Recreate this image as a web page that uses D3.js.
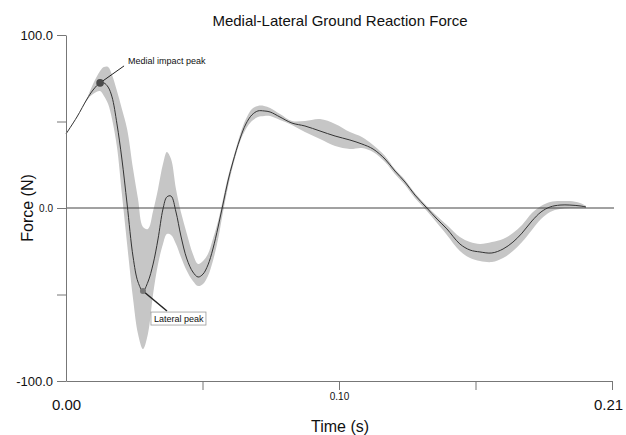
<!DOCTYPE html>
<html>
<head>
<meta charset="utf-8">
<script src="https://cdn.jsdelivr.net/npm/d3@7"></script>
<style>
  body { margin: 0; background: #fff; }
  text { font-family: Arial, "Liberation Sans", sans-serif; fill: #111; }
</style>
</head>
<body>
<svg width="626" height="435"></svg>
<script>
// time (s)
var time = [0, 0.0042, 0.0081, 0.0104, 0.0131, 0.0146, 0.0162, 0.0177, 0.0196, 0.0215,
    0.0235, 0.0258, 0.0277, 0.0296, 0.0315, 0.0335, 0.0354, 0.0373, 0.0388, 0.0404,
    0.0423, 0.0442, 0.0465, 0.0488, 0.0508, 0.0527, 0.0546, 0.0565, 0.0585, 0.0604,
    0.0623, 0.0642, 0.0669, 0.0692, 0.0715, 0.0738, 0.0762, 0.0785, 0.0823, 0.0869,
    0.0919, 0.0977, 0.1035, 0.1092, 0.1138, 0.1181, 0.1227, 0.1265, 0.1304, 0.1342,
    0.1388, 0.1427, 0.1465, 0.1515, 0.1554, 0.1592, 0.1638, 0.1681, 0.1719, 0.1754,
    0.1792, 0.1827, 0.1862, 0.19, 0.1938, 0.1977, 0.2];

// mean force (N)
var meanForce = [42.8, 52.6, 63.0, 68.2, 72.3, 72.3, 69.9, 64.2, 48.6, 28.3,
    2.3, -28.3, -42.8, -48.0, -42.8, -32.4, -17.9, -0.6, 6.4, 6.9,
    -2.3, -16.2, -29.5, -37.0, -39.9, -38.2, -32.9, -23.7, -11.0, 2.3,
    15.6, 26.6, 39.9, 48.6, 53.8, 56.1, 56.1, 55.5, 52.6, 49.1,
    47.4, 44.5, 41.6, 39.3, 37.0, 34.1, 28.3, 21.4, 15.0, 7.5,
    0, -6.4, -12.1, -20.8, -24.3, -25.4, -26.0, -23.7, -19.7, -14.5,
    -7.5, -2.3, 0.6, 1.7, 1.7, 1.2, 0.6];

// upper edge of the shaded band
var upperForce = [42.8, 52.6, 63.6, 71.7, 79.2, 81.5, 81.5, 76.9, 67.6, 57.2,
    45.7, 22.5, 5.2, -11.0, -12.1, -1.7, 11.0, 25.4, 32.4, 28.3,
    11.0, -2.3, -15.0, -26.6, -32.4, -30.6, -26.6, -17.9, -7.5, 5.2,
    17.9, 28.3, 42.2, 51.4, 57.2, 59.0, 59.0, 57.8, 54.3, 50.3,
    50.3, 51.4, 48.6, 43.9, 41.0, 36.4, 30.1, 22.5, 16.2, 8.7,
    1.2, -4.6, -9.8, -16.8, -19.7, -20.8, -19.7, -17.9, -14.5, -9.8,
    -2.9, 1.2, 3.5, 4.0, 4.0, 2.9, 1.2];

// lower edge of the shaded band
var lowerForce = [42.8, 52.6, 62.4, 65.9, 67.6, 64.7, 60.1, 51.4, 35.3, 8.1,
    -20.8, -52.6, -72.8, -81.5, -72.8, -49.7, -32.4, -20.8, -15.0, -15.6,
    -20.8, -28.3, -36.4, -42.2, -45.1, -43.9, -39.3, -30.6, -17.9, -2.3,
    12.1, 24.3, 38.2, 45.7, 50.3, 52.6, 53.2, 53.2, 50.9, 48.0,
    43.9, 39.9, 35.8, 34.1, 34.7, 32.4, 26.6, 19.7, 13.3, 5.8,
    -1.7, -8.7, -15.6, -24.9, -28.9, -30.6, -31.2, -28.9, -24.9, -19.7,
    -12.7, -6.4, -2.3, -0.6, 0, 0, 0];

var yTicks = [100, 50, 0, -50, -100];
var yTickLabels = ['100.0', '', '0.0', '', '-100.0'];
var xTicks = [0, 0.0525, 0.105, 0.1575, 0.21];
var xTickLabels = ['0.00', '', '0.10', '', '0.21'];

var svg = d3.select('svg');
var x = d3.scaleLinear().domain([0, 0.21]).range([66, 612]);
var y = d3.scaleLinear().domain([-100, 100]).range([381, 35]);

var rows = time.map(function (t, i) {
    return {t: t, m: meanForce[i], hi: upperForce[i], lo: lowerForce[i]};
});

// shaded band
var area = d3.area()
    .x(function (d) { return x(d.t); })
    .y0(function (d) { return y(d.lo); })
    .y1(function (d) { return y(d.hi); })
    .curve(d3.curveCatmullRom.alpha(0.5));

svg.append('path')
    .datum(rows)
    .attr('d', area)
    .attr('fill', '#c6c6c6');

// zero line
svg.append('line')
    .attr('x1', x(0)).attr('x2', x(0.21) + 2)
    .attr('y1', y(0)).attr('y2', y(0))
    .attr('stroke', '#444')
    .attr('stroke-width', 1);

// mean line
var line = d3.line()
    .x(function (d) { return x(d.t); })
    .y(function (d) { return y(d.m); })
    .curve(d3.curveCatmullRom.alpha(0.5));

svg.append('path')
    .datum(rows)
    .attr('d', line)
    .attr('fill', 'none')
    .attr('stroke', '#333')
    .attr('stroke-width', 1);

// y axis
var yAxis = svg.append('g')
    .attr('transform', 'translate(' + x(0) + ',0)')
    .call(d3.axisLeft(y).tickValues(yTicks).tickSize(9).tickSizeOuter(0)
        .tickFormat(function (d, i) { return yTickLabels[i]; }));
yAxis.select('.domain').attr('stroke', '#777');
yAxis.selectAll('.tick line').attr('stroke', '#777');
yAxis.selectAll('.tick text')
    .attr('x', -13)
    .style('font-size', function (d) { return d === 0 ? '10px' : '13px'; })
    .attr('fill', '#111');

// x axis
var xAxis = svg.append('g')
    .attr('transform', 'translate(0,' + y(-100) + ')')
    .call(d3.axisBottom(x).tickValues(xTicks).tickSize(9).tickSizeOuter(0)
        .tickFormat(function (d, i) { return xTickLabels[i]; }));
xAxis.select('.domain').attr('stroke', '#777');
xAxis.selectAll('.tick line').attr('stroke', '#777');
xAxis.selectAll('.tick line').filter(function (d) { return d === 0; }).remove();
xAxis.selectAll('.tick text')
    .attr('dy', null)
    .attr('y', function (d, i) { return i === 2 ? 19 : 29; })
    .attr('dx', function (d, i) { return i === 4 ? -4 : 0; })
    .style('font-size', function (d, i) { return i === 2 ? '10px' : '15px'; })
    .attr('fill', '#111');

// titles
svg.append('text')
    .attr('x', 340).attr('y', 26)
    .attr('text-anchor', 'middle')
    .style('font-size', '15px')
    .text('Medial-Lateral Ground Reaction Force');

svg.append('text')
    .attr('x', 340).attr('y', 432)
    .attr('text-anchor', 'middle')
    .style('font-size', '16px')
    .text('Time (s)');

svg.append('text')
    .attr('transform', 'translate(33,208) rotate(-90)')
    .attr('text-anchor', 'middle')
    .style('font-size', '16px')
    .text('Force (N)');

// annotations
var iMed = d3.maxIndex(meanForce.slice(0, 10));
var iLat = d3.minIndex(meanForce.slice(0, 20));

var medX = x(time[iMed]), medY = y(meanForce[iMed]);
svg.append('line')
    .attr('x1', medX).attr('y1', medY)
    .attr('x2', medX + 24).attr('y2', medY - 17)
    .attr('stroke', '#222').attr('stroke-width', 1);
svg.append('circle')
    .attr('cx', medX).attr('cy', medY).attr('r', 3.8)
    .attr('fill', '#4a4a4a');
svg.append('text')
    .attr('x', medX + 28).attr('y', medY - 19)
    .style('font-size', '9px')
    .text('Medial impact peak');

var latX = x(time[iLat]), latY = y(meanForce[iLat]);
svg.append('line')
    .attr('x1', latX).attr('y1', latY)
    .attr('x2', latX + 24).attr('y2', latY + 20)
    .attr('stroke', '#222').attr('stroke-width', 1.5);
svg.append('circle')
    .attr('cx', latX).attr('cy', latY).attr('r', 3)
    .attr('fill', '#777');
svg.append('rect')
    .attr('x', latX + 8).attr('y', latY + 21)
    .attr('width', 55).attr('height', 13)
    .attr('fill', '#fff')
    .attr('stroke', '#999').attr('stroke-width', 0.8);
svg.append('text')
    .attr('x', latX + 11).attr('y', latY + 31)
    .style('font-size', '9px')
    .text('Lateral peak');
</script>
</body>
</html>
